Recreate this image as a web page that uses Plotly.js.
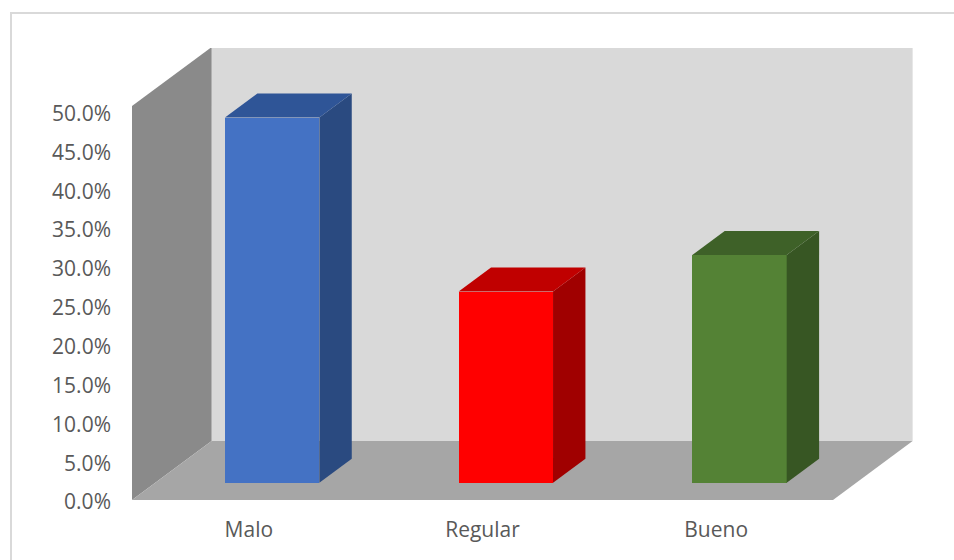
<!DOCTYPE html>
<html>
<head>
<meta charset="utf-8">
<script src="https://cdn.plot.ly/plotly-3.0.1.min.js"></script>
<style>
  html, body { margin: 0; padding: 0; background: #ffffff; overflow: hidden; }
  #wrap { position: relative; width: 954px; height: 560px; }
  #chart { position: absolute; left: 0; top: 0; width: 954px; height: 560px; }
  #frame { position: absolute; left: 10px; top: 12px; width: 980px; height: 600px;
           border: 2px solid #D9D9D9; box-sizing: border-box; pointer-events: none; }
</style>
</head>
<body>
<div id="wrap">
  <div id="chart"></div>
  <div id="frame"></div>
</div>
<script>
// Share of answers per rating
const categories = ['Malo', 'Regular', 'Bueno'];
const values = [0.470, 0.246, 0.293];

// Face colours of each column (front, top, right side)
const frontColors = ['#4472C4', '#FF0000', '#548235'];
const topColors   = ['#2F5597', '#C00000', '#3E6128'];
const sideColors  = ['#2A4A80', '#A00000', '#375623'];

// Value-axis ticks
const yTicks = [0, 0.05, 0.10, 0.15, 0.20, 0.25, 0.30, 0.35, 0.40, 0.45, 0.50];

// Oblique projection: how far the back of the box is shifted (in axis units)
const DX = 0.3407;    // horizontal shift of full depth
const DY = 0.0759;    // vertical shift of full depth
const WALL_H = 0.507; // height of the walls in the front plane
const HALF_W = 0.202; // half width of a column
const D0 = 0.293, D1 = 0.70; // depth span of the columns

const traces = [];
categories.forEach((cat, i) => {
  const v = values[i];
  const xl = i - HALF_W, xr = i + HALF_W;
  const a = D0 * DX, b = D0 * DY, c = D1 * DX, e = D1 * DY;
  // right side face
  traces.push({
    type: 'scatter', mode: 'lines', fill: 'toself', hoverinfo: 'skip',
    x: [xr + a, xr + a, xr + c, xr + c, xr + a],
    y: [b, v + b, v + e, e, b],
    fillcolor: sideColors[i], line: { width: 0, color: sideColors[i] },
    showlegend: false
  });
  // top face
  traces.push({
    type: 'scatter', mode: 'lines', fill: 'toself', hoverinfo: 'skip',
    x: [xl + a, xr + a, xr + c, xl + c, xl + a],
    y: [v + b, v + b, v + e, v + e, v + b],
    fillcolor: topColors[i], line: { width: 0, color: topColors[i] },
    showlegend: false
  });
});

// front faces as a regular bar trace, lifted to the columns' depth
traces.push({
  type: 'bar',
  x: categories.map((c, i) => i + D0 * DX),
  y: values,
  base: values.map(() => D0 * DY),
  width: 2 * HALF_W,
  marker: { color: frontColors, line: { width: 0 } },
  hovertemplate: '%{text}: %{y:.1%}<extra></extra>',
  text: categories, textposition: 'none',
  showlegend: false
});

const X0 = -0.5, X1 = categories.length - 0.5;
const shapes = [
  // back wall
  { type: 'path', layer: 'below', xref: 'x', yref: 'y',
    path: `M ${X0 + DX},${DY} L ${X1 + DX},${DY} L ${X1 + DX},${WALL_H + DY} L ${X0 + DX},${WALL_H + DY} Z`,
    fillcolor: '#D9D9D9', line: { width: 0 } },
  // side wall
  { type: 'path', layer: 'below', xref: 'x', yref: 'y',
    path: `M ${X0},0 L ${X0},${WALL_H} L ${X0 + DX},${WALL_H + DY} L ${X0 + DX},${DY} Z`,
    fillcolor: '#8A8A8A', line: { width: 0 } },
  // floor
  { type: 'path', layer: 'below', xref: 'x', yref: 'y',
    path: `M ${X0},0 L ${X1},0 L ${X1 + DX},${DY} L ${X0 + DX},${DY} Z`,
    fillcolor: '#A6A6A6', line: { width: 0 } }
];

const layout = {
  width: 954, height: 560,
  margin: { l: 132, r: 41, t: 48, b: 60, pad: 0 },
  paper_bgcolor: 'rgba(0,0,0,0)',
  plot_bgcolor: 'rgba(0,0,0,0)',
  font: { family: 'Open Sans, sans-serif', size: 21, color: '#595959' },
  showlegend: false,
  xaxis: {
    range: [X0, X0 + 781 / 233.67],
    tickvals: categories.map((c, i) => i),
    ticktext: categories,
    showgrid: false, zeroline: false, showline: false,
    ticks: '', ticklabelstandoff: 15,
    tickfont: { size: 21, color: '#595959' },
    fixedrange: true
  },
  yaxis: {
    range: [0, 452 / 777],
    tickvals: yTicks,
    tickformat: '.1%',
    showgrid: false, zeroline: false, showline: false,
    ticks: '', ticklabelstandoff: 20, ticklabelshift: 2,
    tickfont: { size: 21, color: '#595959' },
    fixedrange: true
  },
  shapes: shapes,
  bargap: 0
};

Plotly.newPlot('chart', traces, layout, { displayModeBar: false, staticPlot: true });
</script>
</body>
</html>
